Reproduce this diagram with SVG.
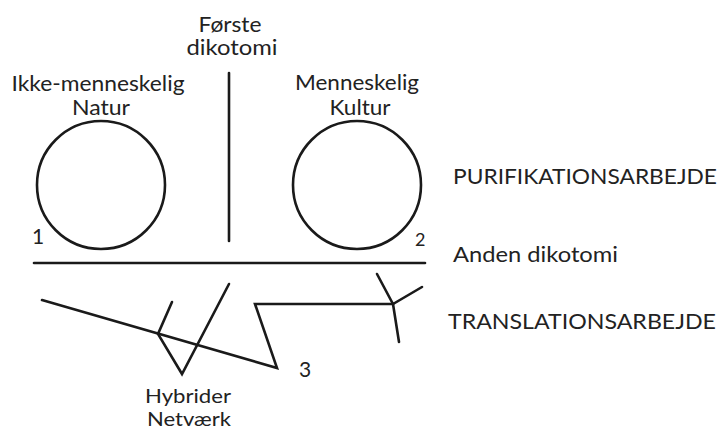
<svg xmlns="http://www.w3.org/2000/svg" width="721" height="430" viewBox="0 0 721 430">
<style>
text{font-family:Lato,"Liberation Sans",sans-serif;font-size:21px;fill:#222}
.c{text-anchor:middle}
.ln{fill:none;stroke:#1a1a1a;stroke-width:2.6;stroke-linecap:round;stroke-linejoin:miter}
</style>
<rect width="721" height="430" fill="#fff"/>
<g id="natur">
<circle class="ln" cx="101" cy="185" r="64"/>
<text class="c" x="98" y="91" textLength="173" lengthAdjust="spacingAndGlyphs">Ikke-menneskelig</text>
<text class="c" x="101" y="115" textLength="58" lengthAdjust="spacingAndGlyphs">Natur</text>
<text x="32" y="244">1</text>
</g>
<g id="kultur">
<circle class="ln" cx="357" cy="185" r="64"/>
<text class="c" x="357" y="90" textLength="124" lengthAdjust="spacingAndGlyphs">Menneskelig</text>
<text class="c" x="360" y="115" textLength="61" lengthAdjust="spacingAndGlyphs">Kultur</text>
<text x="415" y="246" style="font-size:18px">2</text>
</g>
<g id="forste">
<text class="c" x="230" y="32" textLength="63" lengthAdjust="spacingAndGlyphs">Første</text>
<text class="c" x="232" y="55" textLength="91" lengthAdjust="spacingAndGlyphs">dikotomi</text>
</g>
<g id="labels">
<text x="453" y="184" textLength="264" lengthAdjust="spacingAndGlyphs">PURIFIKATIONSARBEJDE</text>
<text x="453" y="262" textLength="165" lengthAdjust="spacingAndGlyphs">Anden dikotomi</text>
<text x="448" y="329" textLength="268" lengthAdjust="spacingAndGlyphs">TRANSLATIONSARBEJDE</text>
<text x="299" y="377">3</text>
<text class="c" x="188" y="403" style="font-size:20px" textLength="86" lengthAdjust="spacingAndGlyphs">Hybrider</text>
<text class="c" x="189" y="426" style="font-size:20px" textLength="84" lengthAdjust="spacingAndGlyphs">Netværk</text>
</g>
<g id="connectors">
<line class="ln" x1="229" y1="73" x2="229" y2="241"/>
<line class="ln" x1="34" y1="263" x2="425" y2="263"/>
<polyline class="ln" points="42,300 277,368 255,304 393,304"/>
<polyline class="ln" points="172,302 158,334 182,374 229,284"/>
<polyline class="ln" points="377,274 393,304 422,287"/>
<line class="ln" x1="393" y1="304" x2="399" y2="342"/>
</g>
</svg>
